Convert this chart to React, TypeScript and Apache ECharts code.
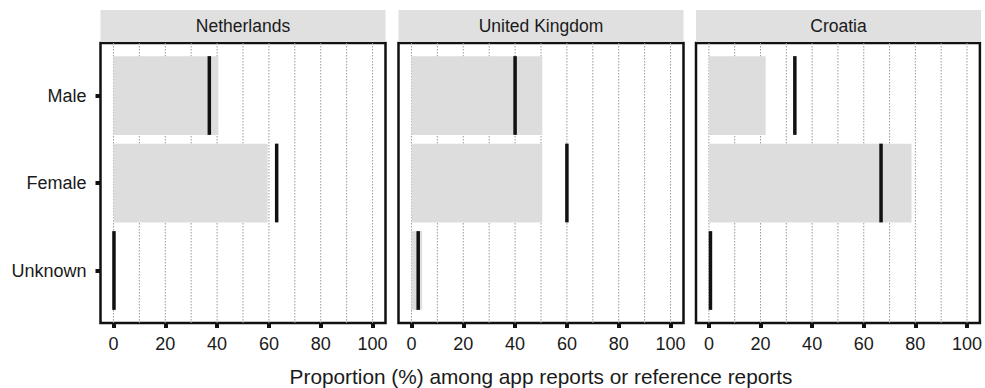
import React, { useEffect, useRef } from "react";
import * as echarts from "echarts";

const countries = ["Netherlands", "United Kingdom", "Croatia"];
const genders = ["Male", "Female", "Unknown"];
// app report proportions (grey bars)
const appNL = [40.5, 59.5, 0];
const appUK = [50.5, 50.5, 4.1];
const appHR = [22, 78.5, 0];
// reference report proportions (black lines)
const refNL = [37, 63, 0.2];
const refUK = [40, 60, 2.6];
const refHR = [33.3, 66.7, 0.6];
const tickVals = [0, 20, 40, 60, 80, 100];
const gridVals = [0, 10, 20, 30, 40, 50, 60, 70, 80, 90, 100];
const catPos = [1, 2, 3];

const FONT = "'Liberation Sans', Arial, Helvetica, sans-serif";
const TXT = "#1a1a1a";

export default function App() {
  const ref = useRef<HTMLDivElement>(null);
  useEffect(() => {
    if (!ref.current) return;
    const chart = echarts.init(ref.current, undefined, { renderer: "svg" });
    const apps = [appNL, appUK, appHR];
    const refs = [refNL, refUK, refHR];
    const lefts = [100.5, 398.5, 696];
    const W = 285;
    const TOP = 43;
    const H = 280;

    const grids: any[] = [];
    const xAxes: any[] = [];
    const yAxes: any[] = [];
    const series: any[] = [];
    const graphics: any[] = [];

    countries.forEach((c, i) => {
      grids.push({
        left: lefts[i],
        top: TOP,
        width: W,
        height: H,
        show: true,
        borderColor: "#111",
        borderWidth: 2.5,
        backgroundColor: "transparent",
      });
      xAxes.push({
        gridIndex: i,
        type: "value",
        min: -5,
        max: 105,
        axisLine: { show: false, onZero: false },
        splitLine: { show: false },
        axisTick: {
          show: true,
          customValues: tickVals,
          length: 5,
          lineStyle: { color: "#111", width: 4 },
        },
        axisLabel: {
          show: true,
          customValues: tickVals,
          margin: 12,
          fontSize: 18,
          fontFamily: FONT,
          color: TXT,
        },
      });
      yAxes.push({
        gridIndex: i,
        type: "value",
        min: 0.4,
        max: 3.6,
        inverse: true,
        axisLine: { show: false, onZero: false },
        splitLine: { show: false },
        axisTick: {
          show: i === 0,
          customValues: catPos,
          length: 5,
          lineStyle: { color: "#111", width: 4 },
        },
        axisLabel: {
          show: i === 0,
          customValues: catPos,
          margin: 14,
          fontSize: 18,
          fontFamily: FONT,
          color: TXT,
          formatter: (v: number) => genders[Math.round(v) - 1] ?? "",
        },
      });
      // dotted grid lines
      series.push({
        type: "custom",
        xAxisIndex: i,
        yAxisIndex: i,
        silent: true,
        z: 1,
        data: gridVals.map((v) => [v]),
        renderItem: (params: any, api: any) => {
          const v = api.value(0);
          const p1 = api.coord([v, 0.4]);
          const p2 = api.coord([v, 3.6]);
          return {
            type: "line",
            shape: { x1: p1[0], y1: p1[1], x2: p2[0], y2: p2[1] },
            style: { stroke: "#9a9a9a", lineWidth: 1, lineDash: [1.5, 1.5] },
          };
        },
      });
      // grey bars (app reports)
      series.push({
        type: "custom",
        xAxisIndex: i,
        yAxisIndex: i,
        z: 2,
        data: apps[i].map((v, k) => [v, catPos[k]]),
        renderItem: (params: any, api: any) => {
          const v = api.value(0);
          const cpos = api.value(1);
          const p0 = api.coord([0, cpos - 0.45]);
          const p1 = api.coord([v, cpos + 0.45]);
          return {
            type: "rect",
            shape: { x: p0[0], y: p0[1], width: p1[0] - p0[0], height: p1[1] - p0[1] },
            style: { fill: "#dcdddc" },
          };
        },
      });
      // black lines (reference reports)
      series.push({
        type: "custom",
        xAxisIndex: i,
        yAxisIndex: i,
        z: 3,
        data: refs[i].map((v, k) => [v, catPos[k]]),
        renderItem: (params: any, api: any) => {
          const v = api.value(0);
          const cpos = api.value(1);
          const p0 = api.coord([v, cpos - 0.45]);
          const p1 = api.coord([v, cpos + 0.45]);
          return {
            type: "line",
            shape: { x1: p0[0], y1: p0[1], x2: p1[0], y2: p1[1] },
            style: { stroke: "#111", lineWidth: 3.5 },
          };
        },
      });
      // strip header
      graphics.push({
        type: "rect",
        shape: { x: lefts[i], y: 10, width: W, height: 32 },
        style: { fill: "#e0e0e0" },
        z: 0,
      });
      graphics.push({
        type: "text",
        x: lefts[i] + W / 2,
        y: 26,
        style: {
          text: c,
          fontSize: 17.5,
          fontFamily: FONT,
          fill: TXT,
          align: "center",
          verticalAlign: "middle",
        },
        z: 1,
      });
    });

    graphics.push({
      type: "text",
      x: 541,
      y: 376.5,
      style: {
        text: "Proportion (%) among app reports or reference reports",
        fontSize: 20.8,
        fontFamily: FONT,
        fill: TXT,
        align: "center",
        verticalAlign: "middle",
      },
    });

    chart.setOption({
      animation: false,
      backgroundColor: "#ffffff",
      grid: grids,
      xAxis: xAxes,
      yAxis: yAxes,
      series,
      graphic: graphics,
    });
    return () => chart.dispose();
  }, []);
  return (
    <div
      ref={ref}
      style={{ position: "fixed", left: 0, top: 0, width: 985, height: 388 }}
    />
  );
}
